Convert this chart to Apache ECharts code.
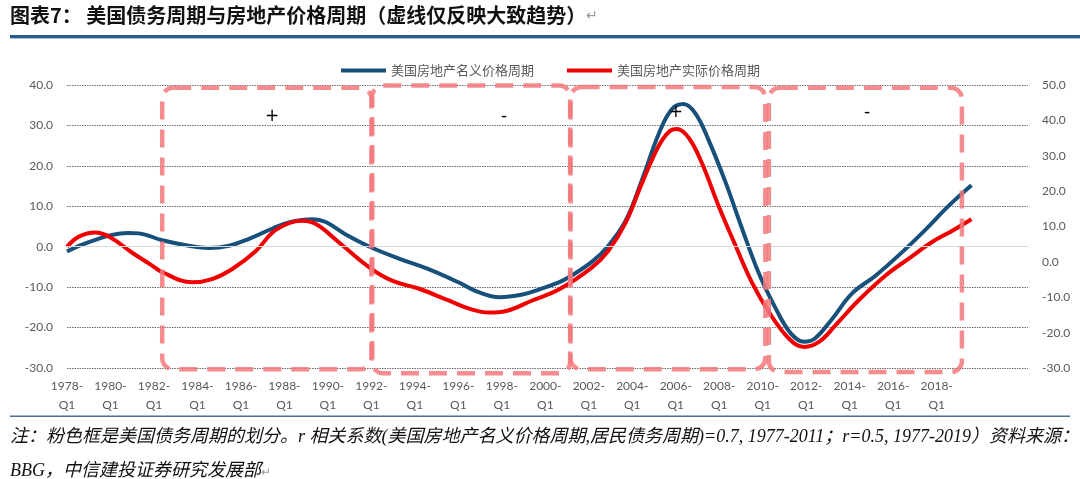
<!DOCTYPE html>
<html><head><meta charset="utf-8">
<script src="https://cdn.jsdelivr.net/npm/echarts@6/dist/echarts.min.js"></script>
<style>html,body{margin:0;padding:0;background:#fff}#c{width:1080px;height:479px}</style>
</head><body><div id="c"></div>
<script>
// ---- data (decimal years) ----
const nominalName = '美国房地产名义价格周期';
const realName = '美国房地产实际价格周期';
const nominalX = [1978.0,1978.55,1979.3,1980.0,1980.8,1981.3,1982.38,1983.6,1984.5,1985.45,1986.4,1987.45,1988.2,1989.3,1989.9,1990.8,1992.0,1993.3,1994.6,1996.0,1996.9,1997.9,1998.9,1999.7,2000.62,2001.1,2002.15,2002.9,2003.7,2004.45,2005.2,2005.8,2006.35,2006.9,2007.5,2008.3,2009.0,2009.8,2010.6,2011.3,2011.9,2012.4,2013.2,2014.1,2015.2,2016.4,2017.5,2018.55,2019.6];
const nominalY = [-1.2,0.2,1.7,2.85,3.4,3.3,1.6,0.25,-0.3,0.25,2.0,4.5,6.0,6.8,6.1,3.1,-0.2,-3.0,-5.5,-8.8,-11.2,-12.5,-11.9,-10.6,-8.8,-7.5,-3.7,0.25,6.5,16.6,27.7,33.9,35.3,33.0,26.5,15.8,5.2,-6.3,-15.3,-21.5,-23.5,-22.7,-17.8,-11.6,-7.1,-1.4,4.3,10.1,15.2];
const realX = [1978.0,1978.55,1979.3,1980.0,1981.0,1981.9,1982.38,1983.75,1984.67,1985.6,1986.7,1987.45,1988.2,1988.8,1989.45,1990.5,1991.9,1992.95,1994.2,1995.55,1996.6,1997.4,1998.2,1999.4,2000.62,2002.15,2002.9,2003.7,2004.45,2005.2,2005.7,2006.05,2006.6,2007.2,2007.97,2008.75,2009.5,2010.28,2011.2,2011.9,2012.6,2013.35,2014.4,2015.65,2016.7,2017.77,2018.7,2019.6];
const realY = [0.0,2.5,3.5,2.3,-1.5,-4.6,-6.3,-8.8,-8.0,-5.5,-1.0,3.5,5.8,6.4,5.6,1.1,-5.1,-8.4,-10.4,-13.3,-15.5,-16.3,-15.9,-13.3,-10.6,-5.1,-1.0,6.0,15.8,24.8,28.5,29.1,26.9,20.7,10.1,0.25,-8.8,-16.1,-22.7,-24.8,-23.5,-19.4,-13.3,-7.1,-3.0,1.1,3.9,6.8];
// debt-cycle periods (pink dashed boxes)
const periodStart = [1982.38, 1992.04, 2001.16, 2010.28];
const periodEnd   = [1992.0, 2001.14, 2010.12, 2019.16];
const periodTop   = [39.3, 39.85, 39.5, 39.3];
const periodBottom= [-30.3, -31.3, -30.3, -31.0];
const periodSign  = ['+', '-', '+', '-'];
const signX = [1987.43, 1998.1, 2006.0, 2014.8];
const signY = [32.2, 32.2, 33.2, 33.2];
const leftAxis = {min: -30, max: 40, interval: 10};
const rightAxis = {min: -30, max: 50, interval: 10};
const titleText = '图表7： 美国债务周期与房地产价格周期（虚线仅反映大致趋势）';
const note1 = '注：粉色框是美国债务周期的划分。r 相关系数(美国房地产名义价格周期,居民债务周期)=0.7, 1977-2011；r=0.5, 1977-2019）资料来源：';
const note2 = 'BBG，中信建投证券研究发展部';

const zip = (xs, ys) => xs.map((x, i) => [x, ys[i]]);
const chart = echarts.init(document.getElementById('c'));
const labelColor = '#595959';
const axisFont = 'Lato';

const option = {
  backgroundColor: '#fff',
  animation: false,
  grid: {left: 67, right: 52, top: 85, bottom: 111},
  legend: {
    left: 336, top: 59, itemGap: 33, icon: 'rect', itemWidth: 45, itemHeight: 4,
    textStyle: {fontSize: 13, color: labelColor, fontFamily: 'Noto Sans CJK SC'},
    data: [nominalName, realName]
  },
  xAxis: {
    type: 'value', min: 1978, max: 2022.2, interval: 2,
    axisLine: {show: false}, axisTick: {show: false}, splitLine: {show: false},
    axisLabel: {
      color: labelColor, fontSize: 12, fontFamily: axisFont, lineHeight: 19, margin: 9,
      formatter: v => (Number.isInteger(v) && v % 2 === 0 && v <= 2018) ? v + '-\nQ1' : ''
    }
  },
  yAxis: [{
    type: 'value', min: leftAxis.min, max: leftAxis.max, interval: leftAxis.interval,
    axisLine: {show: false}, axisTick: {show: false},
    axisLabel: {color: labelColor, fontSize: 12, fontFamily: axisFont, margin: 14, formatter: v => v.toFixed(1)},
    splitLine: {show: true, lineStyle: {color: ['#6e6e6e','#6e6e6e','#6e6e6e','transparent','#6e6e6e','#6e6e6e','#6e6e6e','#6e6e6e'], type: [1.5, 1], width: 1}}
  }, {
    type: 'value', min: rightAxis.min, max: rightAxis.max, interval: rightAxis.interval, position: 'right',
    axisLine: {show: false}, axisTick: {show: false}, splitLine: {show: false},
    axisLabel: {color: labelColor, fontSize: 12, fontFamily: axisFont, margin: 14, formatter: v => v.toFixed(1)}
  }],
  series: [{
    name: nominalName, type: 'line', data: zip(nominalX, nominalY), smooth: 0.4,
    symbol: 'none', color: '#17507A', lineStyle: {width: 4, color: '#17507A'},
    markLine: {silent: true, symbol: 'none', label: {show: false},
      lineStyle: {color: '#D9D9D9', type: 'solid', width: 1.2}, data: [{yAxis: 0}]},
    z: 2
  }, {
    name: realName, type: 'line', data: zip(realX, realY), smooth: 0.4,
    symbol: 'none', color: '#F00000', lineStyle: {width: 4, color: '#F00000'}, z: 3
  }]
};
chart.setOption(option);

// annotation graphics placed through the chart's own scales
const g = [];
g.push({type: 'text', left: 10, top: 5, style: {
  text: '{t|' + titleText + '}{r|↵}',
  rich: {t: {font: 'bold 20px "Noto Sans CJK SC"', fill: '#111'}, r: {font: '14px "Noto Sans CJK SC"', fill: '#999'}}
}});
g.push({type: 'rect', shape: {x: 10, y: 35, width: 1070, height: 3}, style: {fill: '#2C5C8C'}});
g.push({type: 'rect', shape: {x: 10, y: 38, width: 1070, height: 1}, style: {fill: '#A9C0D8'}});
g.push({type: 'rect', shape: {x: 10, y: 415.5, width: 1060, height: 1.5}, style: {fill: '#4A6D96'}});
g.push({type: 'text', left: 10, top: 428, style: {text: note1, font: 'italic 18px "Liberation Serif", "Noto Sans CJK SC"', fill: '#111'}});
g.push({type: 'text', left: 10, top: 462, style: {
  text: '{t|' + note2 + '}{r|↵}',
  rich: {t: {font: 'italic 18px "Liberation Serif", "Noto Sans CJK SC"', fill: '#111'}, r: {font: '12px "Noto Sans CJK SC"', fill: '#999'}}
}});
for (let i = 0; i < periodStart.length; i++) {
  const p0 = chart.convertToPixel({gridIndex: 0}, [periodStart[i], periodTop[i]]);
  const p1 = chart.convertToPixel({gridIndex: 0}, [periodEnd[i], periodBottom[i]]);
  g.push({type: 'rect', z: 10, shape: {x: p0[0], y: p0[1], width: p1[0] - p0[0], height: p1[1] - p0[1], r: 11},
    style: {fill: 'none', stroke: 'rgba(243,120,125,0.85)', lineWidth: 4.5, lineDash: [18, 10]}});
  const s = chart.convertToPixel({gridIndex: 0}, [signX[i], signY[i]]);
  g.push({type: 'text', z: 11, x: s[0], y: s[1], style: {text: periodSign[i], font: '17px "DejaVu Sans"', fill: '#000', align: 'center', verticalAlign: 'middle'}});
}
chart.setOption({graphic: g});
</script>
</body></html>
